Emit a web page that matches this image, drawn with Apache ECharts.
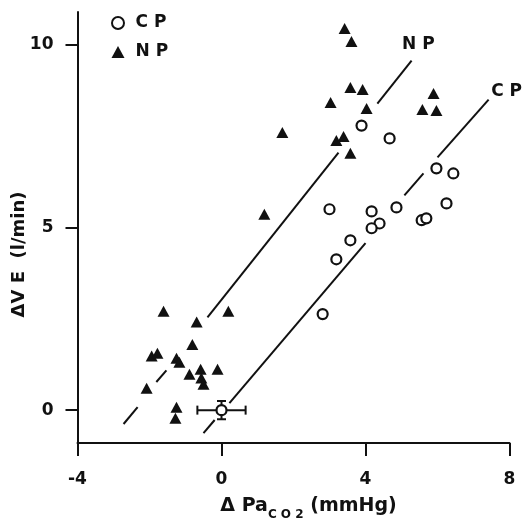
<!DOCTYPE html>
<html>
<head>
<meta charset="utf-8">
<script src="https://cdn.jsdelivr.net/npm/echarts@6/dist/echarts.min.js"></script>
<style>
html,body{margin:0;padding:0;background:#fff;}
#chart{width:530px;height:521px;}
</style>
</head>
<body>
<div id="chart"></div>
<script>
// ---- data ----
const seriesNames = ['CP', 'NP'];
// CP: open circles [ΔPaCO2, ΔVE]
const cpPoints = [
  [0.00, 0.00],
  [3.89, 7.79], [4.67, 7.44], [5.97, 6.62], [6.44, 6.48], [6.25, 5.66],
  [4.86, 5.55], [4.17, 5.44], [3.00, 5.50], [4.39, 5.11], [4.17, 4.98],
  [5.56, 5.20], [5.69, 5.25], [3.58, 4.65], [3.19, 4.13], [2.81, 2.63]
];
// mean CP point with error bars [x, y, xErr, yErr]
const cpMeanError = [[0.00, 0.00, 0.67, 0.25]];
// NP: filled triangles
const npPoints = [
  [3.42, 10.45], [3.61, 10.09], [3.58, 8.83], [3.92, 8.78], [3.03, 8.42],
  [4.03, 8.26], [1.69, 7.60], [3.19, 7.38], [3.39, 7.49], [3.58, 7.03],
  [5.89, 8.67], [5.58, 8.23], [5.97, 8.20], [1.19, 5.36],
  [-1.61, 2.71], [0.19, 2.71], [-0.69, 2.41], [-0.81, 1.80], [-1.94, 1.48],
  [-1.78, 1.56], [-1.25, 1.42], [-1.17, 1.31], [-0.89, 0.98], [-0.58, 1.12],
  [-0.11, 1.12], [-0.56, 0.88], [-0.50, 0.71], [-2.08, 0.60], [-1.25, 0.08],
  [-1.28, -0.22]
];
// regression lines, drawn as separate pieces (gaps as in the figure)
const npFitSegments = [
  [[-2.72, -0.38], [-2.33, 0.08]],
  [[-1.81, 0.77], [-1.53, 1.09]],
  [[-0.39, 2.54], [3.25, 7.05]],
  [[4.33, 8.39], [5.28, 9.57]]
];
const cpFitSegments = [
  [[-0.50, -0.63], [-0.19, -0.27]],
  [[0.22, 0.19], [4.00, 4.57]],
  [[5.08, 5.88], [5.61, 6.48]],
  [[6.00, 6.92], [7.42, 8.50]]
];
// line labels [x, y, text]
const lineLabels = [[5.47, 10.04, 'N P'], [7.92, 8.75, 'C P']];
// axes
const xTicks = [-4, 0, 4, 8];
const yTicks = [0, 5, 10];
const xRange = [-4, 8];
const yRange = [-0.9, 10.9];

// ---- chart ----
const INK = '#111';
const FONT = 'DejaVu Sans';
const chart = echarts.init(document.getElementById('chart'));

const segSeries = [];
npFitSegments.concat(cpFitSegments).forEach(seg => {
  segSeries.push({
    type: 'line', data: seg, symbol: 'none', silent: true, z: 1,
    lineStyle: {color: INK, width: 2}, animation: false
  });
});

chart.setOption({
  animation: false,
  backgroundColor: '#fff',
  grid: {left: 77.5, right: 20.5, top: 12, bottom: 78, outerBoundsMode: 'none', containLabel: false},
  legend: {
    orient: 'vertical', left: 106, top: 9,
    itemWidth: 13, itemHeight: 12, itemGap: 11,
    data: seriesNames,
    formatter: n => n.split('').join(' '),
    textStyle: {fontFamily: FONT, fontWeight: 'bold', fontSize: 17, color: INK, lineHeight: 18, padding: [0, 0, 0, 6]}
  },
  xAxis: {
    type: 'value', min: xRange[0], max: xRange[1], interval: 4,
    axisLine: {onZero: false, lineStyle: {color: INK, width: 2}},
    axisTick: {length: 13, lineStyle: {color: INK, width: 2}},
    axisLabel: {margin: 28, color: INK, fontFamily: FONT, fontWeight: 'bold', fontSize: 17,
      customValues: xTicks},
    splitLine: {show: false},
    name: '{a|\u0394 Pa}{s|C O 2}{a| (mmHg)}',
    nameLocation: 'middle', nameGap: 54, nameMoveOverlap: false,
    nameTextStyle: {
      padding: [0, 0, 0, 30],
      rich: {
        a: {fontFamily: FONT, fontWeight: 'bold', fontSize: 19, color: INK, verticalAlign: 'top', lineHeight: 20},
        s: {fontFamily: FONT, fontWeight: 'bold', fontSize: 12, color: INK, verticalAlign: 'bottom', lineHeight: 24}
      }
    }
  },
  yAxis: {
    type: 'value', min: yRange[0], max: yRange[1],
    axisLine: {onZero: false, lineStyle: {color: INK, width: 2}},
    axisTick: {length: 12, lineStyle: {color: INK, width: 2}, customValues: yTicks},
    axisLabel: {margin: 24, color: INK, fontFamily: FONT, fontWeight: 'bold', fontSize: 17, customValues: yTicks},
    splitLine: {show: false},
    name: '\u0394V E  (l/min)',
    nameLocation: 'middle', nameGap: 49, nameMoveOverlap: false,
    nameTextStyle: {fontFamily: FONT, fontWeight: 'bold', fontSize: 18, color: INK, padding: [0, 54, 0, 0]}
  },
  series: segSeries.concat([
    {
      type: 'custom', z: 2, silent: true,
      data: cpMeanError,
      renderItem: (params, api) => {
        const x = api.value(0), y = api.value(1), ex = api.value(2), ey = api.value(3);
        const l = api.coord([x - ex, y]), r = api.coord([x + ex, y]);
        const t = api.coord([x, y + ey]), b = api.coord([x, y - ey]);
        const st = {stroke: INK, lineWidth: 2};
        const cap = 4.5;
        const ln = (x1, y1, x2, y2) => ({type: 'line', shape: {x1, y1, x2, y2}, style: st});
        return {type: 'group', children: [
          ln(l[0], l[1], r[0], r[1]),
          ln(l[0], l[1] - cap, l[0], l[1] + cap),
          ln(r[0], r[1] - cap, r[0], r[1] + cap),
          ln(t[0], t[1], b[0], b[1]),
          ln(t[0] - cap, t[1], t[0] + cap, t[1]),
          ln(b[0] - cap, b[1], b[0] + cap, b[1])
        ]};
      }
    },
    {
      name: 'CP', type: 'scatter', z: 3, data: cpPoints,
      symbol: 'circle', symbolSize: 10,
      itemStyle: {color: '#fff', borderColor: INK, borderWidth: 2.2, opacity: 1}
    },
    {
      name: 'NP', type: 'scatter', z: 3, data: npPoints,
      symbol: 'triangle', symbolSize: [12, 11],
      itemStyle: {color: INK, opacity: 1}
    },
    {
      type: 'scatter', z: 4, silent: true, symbolSize: 0,
      itemStyle: {color: INK},
      data: lineLabels.map(d => ({value: [d[0], d[1]], name: d[2]})),
      label: {show: true, position: 'top', distance: -10, formatter: p => p.name,
        fontFamily: FONT, fontWeight: 'bold', fontSize: 17, color: INK, opacity: 1}
    }
  ])
});
</script>
</body>
</html>
